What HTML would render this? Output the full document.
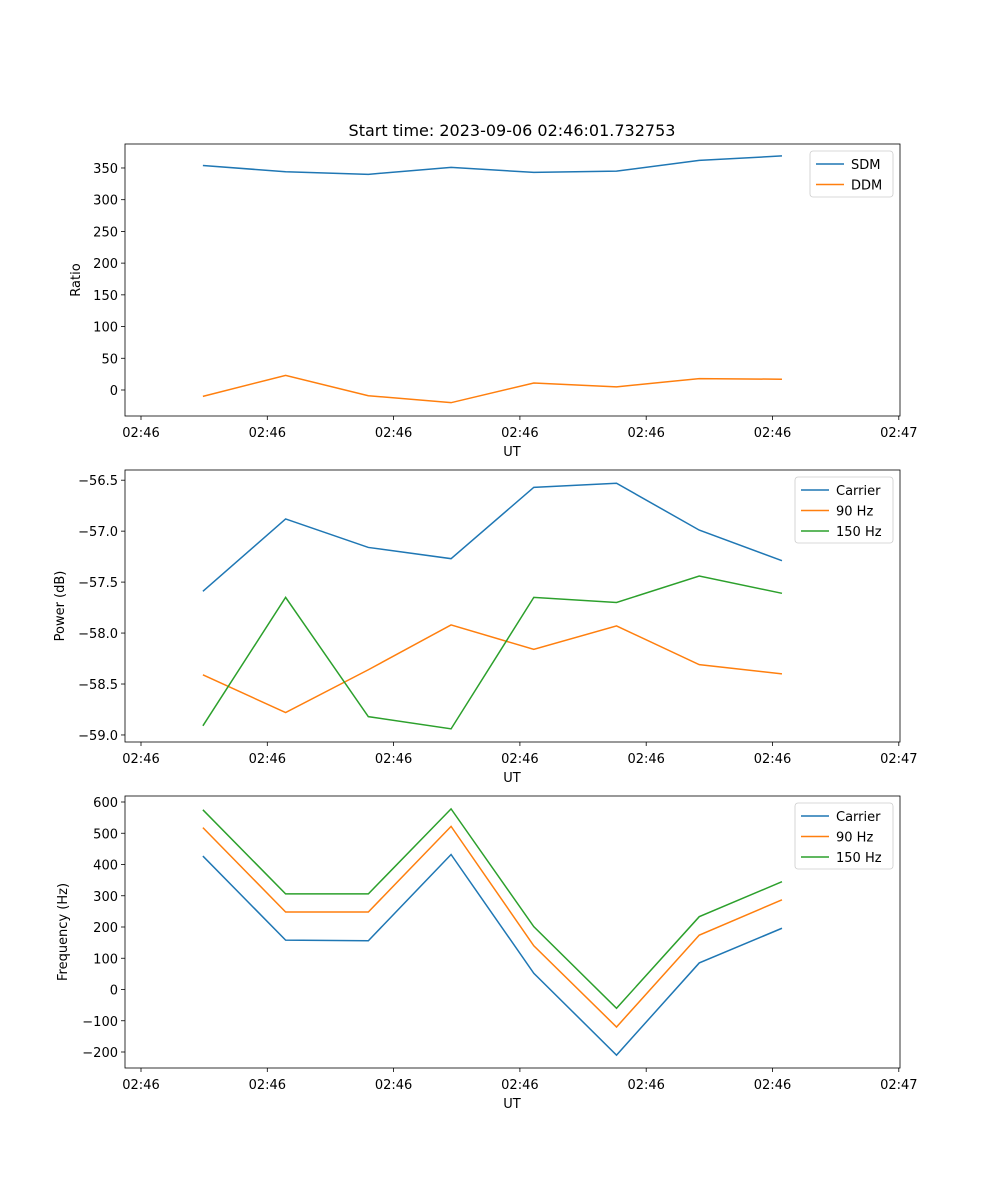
<!DOCTYPE html>
<html><head><meta charset="utf-8"><style>
body{margin:0;background:#fff}
svg{display:block;font-family:"DejaVu Sans","Liberation Sans",sans-serif}
</style></head><body>
<svg id="fig" width="1000" height="1200"></svg>
<script>
const times = [4.9, 11.45, 18.0, 24.55, 31.1, 37.65, 44.2, 50.75];
const xTickVals = [0, 10, 20, 30, 40, 50, 60];
const xTickLabels = ["02:46","02:46","02:46","02:46","02:46","02:46","02:47"];
const sdm = [354, 344, 340, 351, 343, 345, 362, 369];
const ddm = [-10, 23, -9, -20, 11, 5, 18, 17];
const powCarrier = [-57.59, -56.88, -57.16, -57.27, -56.57, -56.53, -56.99, -57.29];
const pow90 = [-58.41, -58.78, -58.36, -57.92, -58.16, -57.93, -58.31, -58.40];
const pow150 = [-58.91, -57.65, -58.82, -58.94, -57.65, -57.70, -57.44, -57.61];
const freqCarrier = [427, 158, 156, 432, 52, -210, 85, 196];
const freq90 = [518, 248, 248, 522, 140, -120, 174, 287];
const freq150 = [575, 306, 306, 578, 201, -60, 233, 345];
const ticks1 = [0, 50, 100, 150, 200, 250, 300, 350];
const ticks2 = [-59.0, -58.5, -58.0, -57.5, -57.0, -56.5];
const ticks3 = [-200, -100, 0, 100, 200, 300, 400, 500, 600];

const NS = "http://www.w3.org/2000/svg";
const svg = document.getElementById('fig');
function mk(tag, attrs, parent){const e=document.createElementNS(NS,tag);for(const k in attrs)e.setAttribute(k,attrs[k]);(parent||svg).appendChild(e);return e;}
const L=125,R=900;
const xs = v => 141 + (v/10)*126.3;
const C = {blue:"#1f77b4",orange:"#ff7f0e",green:"#2ca02c"};

function panel(name, top, bot, ymin, ymax, yticks, fmt, ylabel, series, legX, legW){
  const g = mk('g',{});
  
  
  const ys = v => bot - (v-ymin)/(ymax-ymin)*(bot-top);
  series.forEach(s=>{
    const p = mk('polyline',{points:s.data.map((v,i)=>xs(times[i])+','+ys(v)).join(' '),fill:'none',stroke:s.color,'stroke-width':1.5},g);
    
    
  });
  const fr = mk('rect',{x:L,y:top,width:R-L,height:bot-top,fill:'none',stroke:'#000','stroke-width':0.8},g);
  
  
  xTickVals.forEach((v,i)=>{
    const x=xs(v);
    mk('line',{x1:x,x2:x,y1:bot,y2:bot+4,stroke:'#000','stroke-width':0.8},g);
    const t=mk('text',{x:x,y:bot+21,'font-size':13,'text-anchor':'middle'},g);t.textContent=xTickLabels[i];
    
    
  });
  const xl=mk('text',{x:512,y:bot+40,'font-size':13,'text-anchor':'middle'},g);xl.textContent='UT';
  
  
  yticks.forEach(v=>{
    const y=ys(v);
    mk('line',{x1:L-4,x2:L,y1:y,y2:y,stroke:'#000','stroke-width':0.8},g);
    const t=mk('text',{x:L-7,y:y+5,'font-size':13,'text-anchor':'end'},g);t.textContent=fmt(v);
    
    
  });
  const yl=mk('text',{x:0,y:0,'font-size':13,'text-anchor':'middle',transform:`translate(${ylabel.x},${(top+bot)/2}) rotate(-90)`},g);yl.textContent=ylabel.t;
  
  
  const lg=mk('g',{},g);
  
  
  mk('rect',{x:legX,y:top+7,width:legW,height:series.length*20+6,rx:3,fill:'#fff',stroke:'#ccc','stroke-width':0.8},lg);
  series.forEach((s,i)=>{
    const y=top+20+i*20.5;
    mk('line',{x1:legX+6,x2:legX+34,y1:y,y2:y,stroke:s.color,'stroke-width':1.5},lg);
    const t=mk('text',{x:legX+41,y:y+5,'font-size':13},lg);t.textContent=s.label;
    
    
  });
}
const title=mk('text',{x:512,y:136,'font-size':16,'text-anchor':'middle'});
title.textContent='Start time: 2023-09-06 02:46:01.732753';



panel('ratio-panel',144,416,-41,387.8,ticks1,v=>v<0?'\u2212'+(-v):String(v),{x:80,t:'Ratio'},
 [{key:'sdm',label:'SDM',data:sdm,color:C.blue},{key:'ddm',label:'DDM',data:ddm,color:C.orange}],810,83);
panel('power-panel',470,742,-59.069,-56.40,ticks2,v=>'\u2212'+(-v).toFixed(1),{x:64,t:'Power (dB)'},
 [{key:'carrier',label:'Carrier',data:powCarrier,color:C.blue},{key:'90hz',label:'90 Hz',data:pow90,color:C.orange},{key:'150hz',label:'150 Hz',data:pow150,color:C.green}],795,98);
panel('frequency-panel',796,1068,-251.2,619.2,ticks3,v=>v<0?'\u2212'+(-v):String(v),{x:67,t:'Frequency (Hz)'},
 [{key:'carrier',label:'Carrier',data:freqCarrier,color:C.blue},{key:'90hz',label:'90 Hz',data:freq90,color:C.orange},{key:'150hz',label:'150 Hz',data:freq150,color:C.green}],795,98);
</script>
</body></html>
